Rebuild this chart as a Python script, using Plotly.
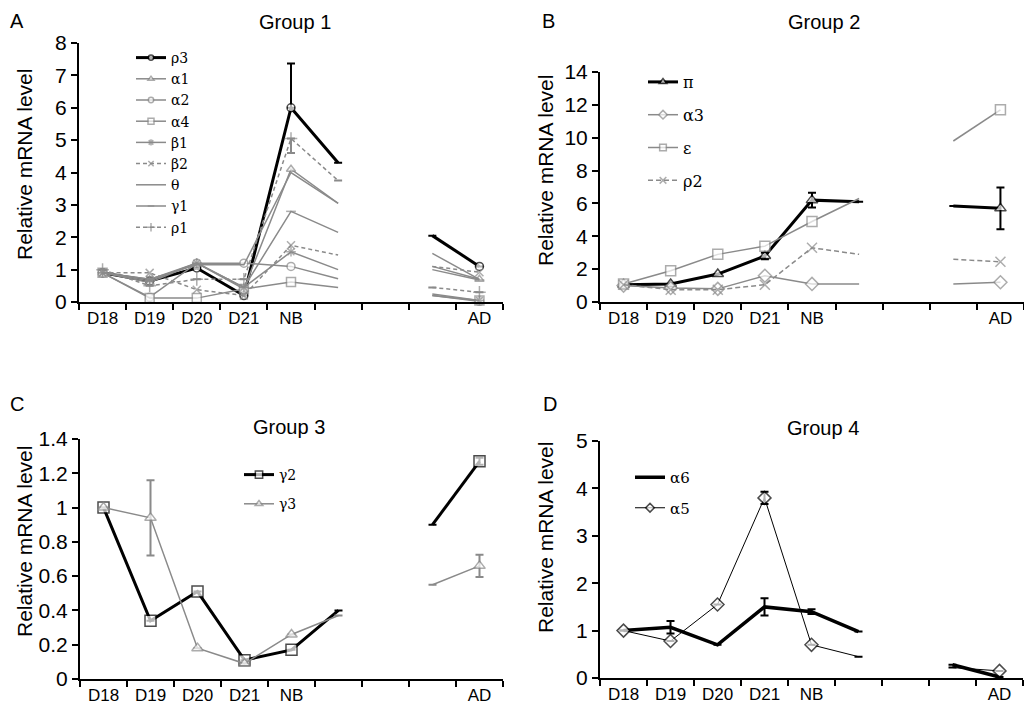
import plotly.graph_objects as go

# ---------------- data ----------------
stages = ["D18", "D19", "D20", "D21", "NB", " ", "  ", "   ", "AD"]
measured = [True, True, True, True, True, False, False, False, True]

# Group 1
g1_rho3 = [0.9, 0.65, 1.05, 0.2, 6.0, 4.3, None, 2.05, 1.1]
g1_a1 = [0.9, 0.6, 1.2, 0.4, 4.1, 3.05, None, 1.1, 0.7]
g1_a2 = [0.9, 0.15, 1.2, 1.2, 1.1, 0.72, None, 0.2, 0.02]
g1_a4 = [0.9, 0.12, 0.12, 0.4, 0.62, 0.45, None, 0.2, 0.05]
g1_b1 = [0.9, 0.7, 1.2, 0.45, 1.55, 1.0, None, 0.25, 0.05]
g1_b2 = [0.9, 0.9, 0.38, 0.2, 1.75, 1.45, None, 1.1, 0.92]
g1_theta = [0.9, 0.7, 1.15, 1.15, 4.0, 3.05, None, 1.5, 0.7]
g1_g1 = [0.9, 0.65, 1.2, 0.45, 2.8, 2.15, None, 1.0, 0.68]
g1_rho1 = [1.0, 0.5, 0.7, 0.7, 5.05, 3.75, None, 0.45, 0.3]
g1_rho3_err_up = [None, None, None, None, 1.37, None, None, None, None]
g1_rho1_err_down = [None, None, None, None, 0.45, None, None, None, None]

# Group 2
g2_pi = [1.05, 1.1, 1.7, 2.8, 6.2, 6.1, None, 5.85, 5.7]
g2_a3 = [1.0, 0.85, 0.8, 1.6, 1.1, 1.1, None, 1.1, 1.2]
g2_eps = [1.1, 1.9, 2.9, 3.4, 4.9, 6.3, None, 9.8, 11.7]
g2_rho2 = [1.05, 0.75, 0.75, 1.05, 3.3, 2.9, None, 2.6, 2.45]
g2_pi_err = [None, None, None, 0.2, 0.45, None, None, None, 1.27]

# Group 3
g3_g2 = [1.0, 0.34, 0.51, 0.11, 0.17, 0.4, None, 0.9, 1.27]
g3_g3 = [1.0, 0.94, 0.18, 0.09, 0.26, 0.37, None, 0.55, 0.66]
g3_g2_err = [None, None, None, None, None, None, None, None, 0.02]
g3_g3_err = [None, 0.22, None, None, None, None, None, None, 0.065]

# Group 4
g4_a6 = [1.0, 1.07, 0.7, 1.5, 1.4, 0.98, None, 0.28, 0.02]
g4_a5 = [1.0, 0.78, 1.55, 3.8, 0.7, 0.45, None, 0.22, 0.15]
g4_a6_err = [None, 0.13, None, 0.18, 0.05, None, None, None, None]
g4_a5_err = [None, None, None, 0.13, None, None, None, None, None]

# ---------------- styling helpers ----------------
# the page body has an 8px margin, so the figure is 8px smaller and all
# positions below are given in window pixels and shifted by that offset
OFF = 8
W, H = 1032 - OFF, 705 - OFF
GRAY = "#8a8a8a"
SANS = "Arial, Liberation Sans, sans-serif"
SERIF = "DejaVu Serif, serif"

fig = go.Figure()


def px_x(p):
    return (p - OFF) / W


def px_y(p):
    return 1 - (p - OFF) / H


def add(ax, legend, name, y, color, width, symbol=None, size=8, dash="solid",
        fill="white", err_up=None, err_down=None, err_color=None):
    mode = "lines+markers" if symbol else "lines"
    kw = {}
    if symbol:
        sizes = [size if m else 0 for m in measured]
        line_sym = any(s in symbol for s in ["x-thin", "cross-thin", "asterisk", "line-"])
        kw["marker"] = dict(symbol=symbol, size=sizes,
                            color=(color if line_sym else fill),
                            line=dict(color=color, width=1.5))
    if err_up is not None or err_down is not None:
        if err_up is None:
            up = [0 if v is not None else None for v in err_down]
        else:
            up = err_up
        dn = err_down if err_down is not None else err_up
        kw["error_y"] = dict(type="data", symmetric=False, array=up, arrayminus=dn,
                             color=err_color or color, thickness=2, width=4)
    fig.add_trace(go.Scatter(
        x=stages, y=y, name=name, mode=mode, xaxis="x" + ax, yaxis="y" + ax,
        line=dict(color=color, width=width, dash=dash), connectgaps=False,
        legend=legend, legendgroup=legend + name, cliponaxis=False, **kw))


# Group 1 (panel A)
add("", "legend", "ρ3", g1_rho3, "black", 3, "circle", 8, err_up=g1_rho3_err_up,
    err_down=[None] * 9)
add("", "legend", "α1", g1_a1, GRAY, 1.5, "triangle-up", 8)
add("", "legend", "α2", g1_a2, GRAY, 1.5, "circle", 8)
add("", "legend", "α4", g1_a4, GRAY, 1.5, "square", 9)
add("", "legend", "β1", g1_b1, GRAY, 1.5, "asterisk-open", 8)
add("", "legend", "β2", g1_b2, GRAY, 1.5, "x-thin-open", 8, dash="4px,3px")
add("", "legend", "θ", g1_theta, GRAY, 1.5)
add("", "legend", "γ1", g1_g1, GRAY, 1.5, "line-ew-open", 7)
add("", "legend", "ρ1", g1_rho1, GRAY, 1.5, "cross-thin-open", 9, dash="4px,3px",
    err_down=g1_rho1_err_down)

# Group 2 (panel B)
add("2", "legend2", "π", g2_pi, "black", 3, "triangle-up", 10, err_up=g2_pi_err)
add("2", "legend2", "α3", g2_a3, GRAY, 1.5, "diamond", 10)
add("2", "legend2", "ε", g2_eps, GRAY, 1.5, "square", 10)
add("2", "legend2", "ρ2", g2_rho2, GRAY, 1.5, "x-thin-open", 10, dash="5px,3px")

# Group 3 (panel C)
add("3", "legend3", "γ2", g3_g2, "black", 3, "square", 11, err_up=g3_g2_err)
add("3", "legend3", "γ3", g3_g3, GRAY, 1.5, "triangle-up", 10, err_up=g3_g3_err)

# Group 4 (panel D)
add("4", "legend4", "α6", g4_a6, "black", 3.5, err_up=g4_a6_err)
add("4", "legend4", "α5", g4_a5, "black", 1, "diamond", 10, err_up=g4_a5_err)

# ---------------- axes ----------------
panels = {
    "": dict(x=(79, 503), y=(43, 302), yr=[0, 8], dt=1),
    "2": dict(x=(600, 1024), y=(72, 302), yr=[0, 14], dt=2),
    "3": dict(x=(80, 503), y=(439, 679), yr=[0, 1.4], dt=0.2),
    "4": dict(x=(600, 1023), y=(441, 678), yr=[0, 5], dt=1),
}
layout = {}
for k, p in panels.items():
    layout["xaxis" + k] = dict(
        domain=[px_x(p["x"][0]), px_x(p["x"][1])], anchor="y" + k,
        type="category", categoryorder="array", categoryarray=stages,
        range=[-0.5, 8.5], tickson="boundaries", ticks="outside", ticklen=6,
        tickwidth=2, tickcolor="black", showline=True, linecolor="black", linewidth=2,
        showgrid=False, zeroline=False, tickfont=dict(family=SANS, size=17, color="black"),
        automargin=False, fixedrange=True)
    layout["yaxis" + k] = dict(
        domain=[px_y(p["y"][1]), px_y(p["y"][0])], anchor="x" + k,
        range=p["yr"], dtick=p["dt"], tick0=0, ticks="outside", ticklen=6, tickwidth=2,
        tickcolor="black", showline=True, linecolor="black", linewidth=2,
        showgrid=False, zeroline=False, tickfont=dict(family=SANS, size=21, color="black"),
        automargin=False, fixedrange=True)


def leg(xp, yp, fs, gap):
    return dict(x=px_x(xp), y=px_y(yp), xanchor="left", yanchor="top",
                bgcolor="rgba(0,0,0,0)", borderwidth=0, traceorder="grouped",
                tracegroupgap=gap, font=dict(family=SERIF, size=fs, color="black"),
                itemsizing="trace")


layout["legend"] = leg(131, 42, 14, 0)
layout["legend2"] = leg(643, 65, 16, 9)
layout["legend3"] = leg(239, 459, 14, 8)
layout["legend4"] = leg(630, 461, 15, 8)

annotations = []
for txt, x, y in [("A", 8, 8), ("B", 540, 8), ("C", 8, 391), ("D", 541, 391)]:
    annotations.append(dict(text=txt, x=px_x(x), y=px_y(y), xref="paper", yref="paper",
                            showarrow=False, xanchor="left", yanchor="top",
                            font=dict(family=SANS, size=20, color="black")))
for txt, x, y in [("Group 1", 295, 22), ("Group 2", 824, 22), ("Group 3", 289, 427),
                  ("Group 4", 823, 428)]:
    annotations.append(dict(text=txt, x=px_x(x), y=px_y(y), xref="paper", yref="paper",
                            showarrow=False, xanchor="center", yanchor="middle",
                            font=dict(family=SANS, size=20, color="black")))
for x, y in [(25, 165), (545, 171), (24, 542), (545, 538)]:
    annotations.append(dict(text="Relative mRNA level", x=px_x(x), y=px_y(y),
                            xref="paper", yref="paper", showarrow=False, textangle=-90,
                            xanchor="center", yanchor="middle",
                            font=dict(family=SANS, size=21, color="black")))

fig.update_layout(
    width=W, height=H, autosize=False,
    margin=dict(l=0, r=0, t=0, b=0, pad=0, autoexpand=False),
    paper_bgcolor="white", plot_bgcolor="white",
    showlegend=True, annotations=annotations, **layout)

fig.write_html("out.html")
